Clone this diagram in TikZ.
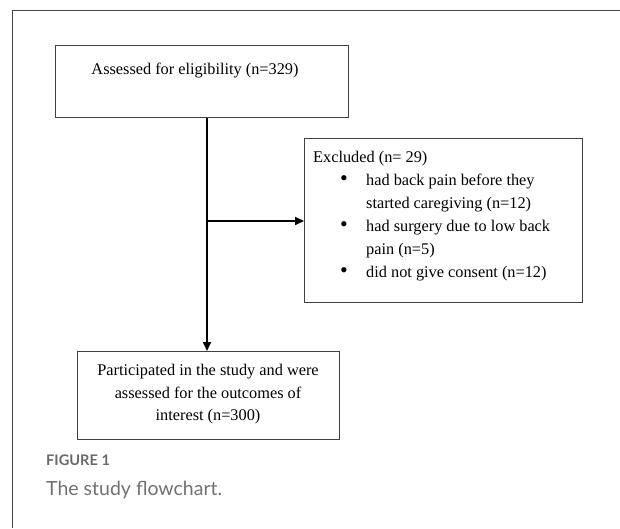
\documentclass[tikz,border=0pt]{standalone}
\usepackage{fontspec}
\setmainfont{Liberation Serif}
\newfontfamily\capfont{Lato}
\usetikzlibrary{arrows.meta}
\definecolor{frame}{HTML}{444444}
\definecolor{boxline}{HTML}{404040}
\definecolor{capgrey}{HTML}{6A6A6A}
\tikzset{
  flowbox/.style={draw=boxline, line width=1pt, rectangle, inner sep=0pt, anchor=north west},
  flowtext/.style={font=\fontsize{16.3}{23}\selectfont, inner sep=0pt},
  flowarrow/.style={line width=1.7pt, -{Triangle[length=9pt,width=8pt]}},
}
\newcommand{\bigbul}{\raisebox{0.5pt}{\scalebox{1.35}{\textbullet}}}
\begin{document}
\begin{tikzpicture}[x=1pt,y=-1pt]
\useasboundingbox (0,0) rectangle (620,528);
\fill[white] (0,0) rectangle (620,528);
% frame
\draw[frame, line width=1pt] (620,10) -- (12,10) -- (12,528);
% boxes
\node[flowbox, minimum width=293pt, minimum height=72pt] (top) at (55,45) {};
\node[flowtext, anchor=base] (toptext) at (195,74) {Assessed for eligibility (n=329)};
\node[flowbox, minimum width=278pt, minimum height=164pt] (excl) at (304,138) {};
\node[flowtext, anchor=north west, align=left] (excltext) at (313,151) {%
Excluded (n= 29)\\
\hspace*{27pt}\makebox[26pt][l]{\bigbul}had back pain before they\\
\hspace*{53pt}started caregiving (n=12)\\
\hspace*{27pt}\makebox[26pt][l]{\bigbul}had surgery due to low back\\
\hspace*{53pt}pain (n=5)\\
\hspace*{27pt}\makebox[26pt][l]{\bigbul}did not give consent (n=12)};
\node[flowbox, minimum width=262pt, minimum height=88pt] (part) at (77,351) {};
\node[flowtext, anchor=north, align=center, font=\fontsize{16.3}{22.5}\selectfont] (parttext) at (208,364) {%
Participated in the study and were\\
assessed for the outcomes of\\
interest (n=300)};
% connectors
\draw[flowarrow] (top.south -| 207,0) -- (part.north -| 207,0);
\draw[flowarrow] (207,221) -- (excl.west |- 0,221);
% caption
\node[anchor=base west, inner sep=0pt, font=\capfont\bfseries\fontsize{14.6}{16}\selectfont, text=capgrey] (fig) at (46,465) {FIGURE 1};
\node[anchor=base west, inner sep=0pt, font=\capfont\fontsize{19.5}{22}\selectfont, text=capgrey!95] (capt) at (46,495) {The study flowchart.};
\end{tikzpicture}
\end{document}
